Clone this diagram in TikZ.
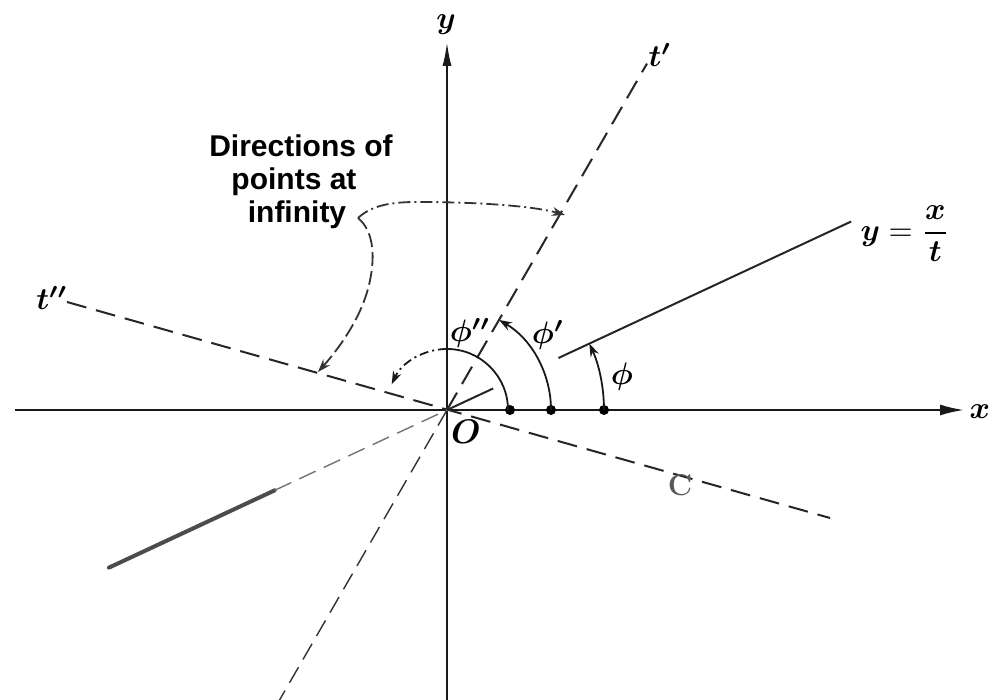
\documentclass[tikz,border=0pt]{standalone}
\usepackage{amsmath}
\usepackage{fontspec}
\usepackage{bm}
\usetikzlibrary{arrows.meta}
\newfontfamily\annfont{Liberation Sans}
\begin{document}
\begin{tikzpicture}[x=1pt,y=1pt,
  axisline/.style={line width=2pt, black!90},
  tline/.style={line width=2pt, black!85, dash pattern=on 20pt off 10pt},
  thinline/.style={line width=1.4pt, black!80, dash pattern=on 18pt off 9pt},
  solidl/.style={line width=2pt, black!85},
  arcl/.style={line width=1.8pt, black!90},
  annline/.style={line width=1.8pt, black!80},
  mlab/.style={inner sep=0pt, font=\normalsize, scale=3.1},
  ann/.style={inner sep=0pt, font=\annfont\bfseries\fontsize{30}{33}\selectfont},
  clab/.style={inner sep=0pt, text=black!65, font=\bfseries\fontsize{30}{33}\selectfont},
  dotn/.style={circle, fill=black, inner sep=0pt, minimum size=10pt},
  tipa/.style={-{Stealth[length=13pt,width=9pt]}}
]
\useasboundingbox (-447,-290) rectangle (542,410);
\fill[white] (-447,-290) rectangle (542,410);
\coordinate (O) at (0,0);

% axes
\draw[axisline,-{Latex[length=24pt,width=11pt]}] (-432,0) -- (517,0);
\node[mlab, anchor=west] (xl) at (522,-2) {$\bm{x}$};
\draw[axisline,-{Latex[length=24pt,width=9pt]}] (0,-290) -- (0,368);
\node[mlab] (yl) at (-1,385) {$\bm{y}$};

% t' line
\draw[tline] (O) -- (60:400);
\draw[thinline] (O) -- (240:335);
\node[mlab] (tp) at (213,355) {$\bm{t'}$};

% t'' line and C
\draw[tline] (-380,108) -- (383,-108);
\node[mlab] (tpp) at (-395,112) {$\bm{t''}$};
\node[clab] (Cl) at (233,-75) {C};

% y = x/t line
\draw[solidl] (25:123) -- (25:446);
\draw[solidl] (O) -- (25:51);
\draw[line width=4pt, black!70, line cap=round] (205:373) -- (205:190);
\draw[thinline, black!55] (205:190) -- (O);
\node[mlab] (eq) at (458,176) {$\bm{y}=\dfrac{\bm{x}}{\bm{t}}$};

% dots
\node[dotn] (p1) at (63,0) {};
\node[dotn] (p2) at (104,0) {};
\node[dotn] (p3) at (157,0) {};

% angle arcs
\draw[arcl] (61,0) arc[start angle=0, end angle=90, radius=61];
\draw[arcl, tipa, dash pattern=on 9pt off 4pt on 2pt off 4pt] (90:61) arc[start angle=90, end angle=155, radius=61];
\draw[arcl, tipa] (p2.center) arc[start angle=0, end angle=60, radius=104];
\draw[arcl, tipa] (p3.center) arc[start angle=0, end angle=25, radius=157];
\node[mlab] (phi) at (175,33) {$\bm{\phi}$};
\node[mlab] (phi1) at (101,75) {$\bm{\phi'}$};
\node[mlab] (phi2) at (23,77) {$\bm{\phi''}$};
\node[mlab, scale=1.1] (Ol) at (19,-22) {$\bm{O}$};

% annotation
\node[ann, anchor=base] (d1) at (-146,253) {Directions of};
\node[ann, anchor=base] (d2) at (-153,220) {points at};
\node[ann, anchor=base] (d3) at (-150,187) {infinity};
\coordinate (S) at (-89,192);
\coordinate (A1) at (118,195);
\coordinate (A2) at (-129,38);
\draw[annline, tipa, dash pattern=on 12pt off 4pt on 2pt off 4pt] (S) .. controls (-75,205) and (-55,208) .. (-30,208) .. controls (40,208) and (90,203) .. (A1);
\draw[annline, tipa, dash pattern=on 14pt off 5pt] (S) .. controls (-72,178) and (-72,150) .. (-78,125) .. controls (-85,95) and (-105,65) .. (A2);
\end{tikzpicture}
\end{document}
